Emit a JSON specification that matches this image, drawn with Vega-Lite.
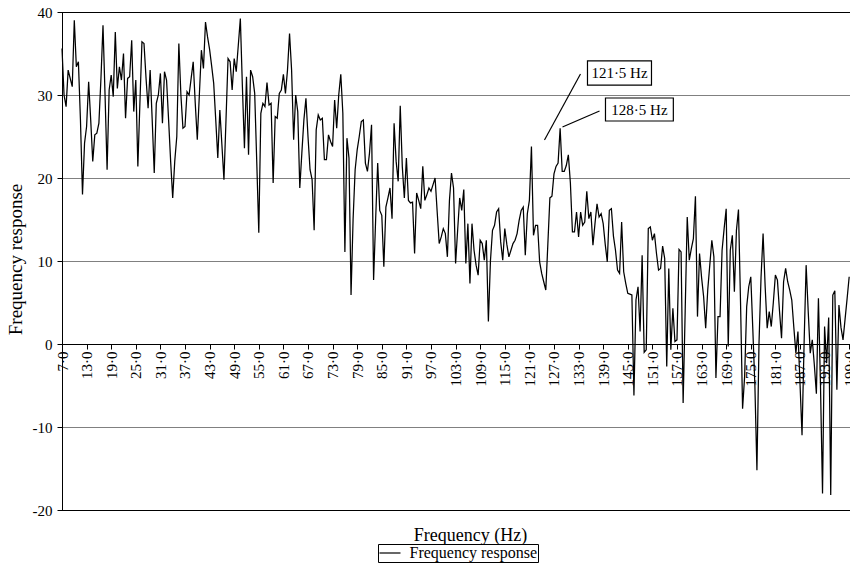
{
  "$schema": "https://vega.github.io/schema/vega-lite/v6.json",
  "width": 788,
  "height": 498,
  "autosize": "none",
  "padding": {"left": 62, "top": 12, "right": 0, "bottom": 73},
  "background": "white",
  "config": {
    "view": {"stroke": null},
    "font": "Liberation Serif",
    "axis": {"labelFont": "Liberation Serif", "titleFont": "Liberation Serif", "labelColor": "black", "titleColor": "black", "titleFontWeight": "normal", "domainColor": "black", "tickColor": "black", "domainWidth": 1, "tickWidth": 1},
    "axisX": {"labelOverlap": false, "labelFlush": false, "labelBound": false},
    "axisY": {"labelOverlap": false, "labelFlush": false}
  },
  "datasets": {
    "freq": [
      {"f":7.0,"v":35.6},{"f":7.5,"v":30},{"f":8.0,"v":28.6},{"f":8.5,"v":33},{"f":9.0,"v":32},{"f":9.5,"v":31},{"f":10.0,"v":39},{"f":10.5,"v":33.4},{"f":11.0,"v":34},{"f":11.5,"v":27},
      {"f":12.0,"v":18},{"f":12.5,"v":24.2},{"f":13.0,"v":26.2},{"f":13.5,"v":31.6},{"f":14.0,"v":27},{"f":14.5,"v":22},{"f":15.0,"v":25.2},{"f":15.5,"v":25.4},{"f":16.0,"v":26.6},{"f":16.5,"v":32},
      {"f":17.0,"v":38.4},{"f":17.5,"v":30},{"f":18.0,"v":21},{"f":18.5,"v":30.6},{"f":19.0,"v":32.4},{"f":19.5,"v":29.8},{"f":20.0,"v":37.6},{"f":20.5,"v":30.8},{"f":21.0,"v":33.4},{"f":21.5,"v":31.8},
      {"f":22.0,"v":35},{"f":22.5,"v":27.2},{"f":23.0,"v":32},{"f":23.5,"v":32.2},{"f":24.0,"v":36.6},{"f":24.5,"v":28},{"f":25.0,"v":31.8},{"f":25.5,"v":21.4},{"f":26.0,"v":29},{"f":26.5,"v":36.4},
      {"f":27.0,"v":36.2},{"f":27.5,"v":32},{"f":28.0,"v":28.4},{"f":28.5,"v":33},{"f":29.0,"v":27},{"f":29.5,"v":20.6},{"f":30.0,"v":29},{"f":30.5,"v":30},{"f":31.0,"v":32.6},{"f":31.5,"v":26.6},
      {"f":32.0,"v":32.8},{"f":32.5,"v":31.8},{"f":33.0,"v":27},{"f":33.5,"v":22},{"f":34.0,"v":17.6},{"f":34.5,"v":22},{"f":35.0,"v":25},{"f":35.5,"v":36.2},{"f":36.0,"v":30},{"f":36.5,"v":26},
      {"f":37.0,"v":26.2},{"f":37.5,"v":30.4},{"f":38.0,"v":30},{"f":38.5,"v":32},{"f":39.0,"v":34},{"f":39.5,"v":29},{"f":40.0,"v":24.6},{"f":40.5,"v":30},{"f":41.0,"v":35.4},{"f":41.5,"v":33.2},
      {"f":42.0,"v":38.8},{"f":42.5,"v":37},{"f":43.0,"v":35.5},{"f":43.5,"v":33.5},{"f":44.0,"v":31.4},{"f":44.5,"v":27},{"f":45.0,"v":22.4},{"f":45.5,"v":28.2},{"f":46.0,"v":24},{"f":46.5,"v":19.8},
      {"f":47.0,"v":27},{"f":47.5,"v":34.4},{"f":48.0,"v":34},{"f":48.5,"v":30.6},{"f":49.0,"v":34.4},{"f":49.5,"v":32.8},{"f":50.0,"v":36},{"f":50.5,"v":39.2},{"f":51.0,"v":31},{"f":51.5,"v":23.6},
      {"f":52.0,"v":32.2},{"f":52.5,"v":22.8},{"f":53.0,"v":33},{"f":53.5,"v":32.2},{"f":54.0,"v":30.2},{"f":54.5,"v":22},{"f":55.0,"v":13.4},{"f":55.5,"v":27.8},{"f":56.0,"v":29},{"f":56.5,"v":28.6},
      {"f":57.0,"v":31.5},{"f":57.5,"v":28.8},{"f":58.0,"v":29},{"f":58.5,"v":19.4},{"f":59.0,"v":27.4},{"f":59.5,"v":27.2},{"f":60.0,"v":30.2},{"f":60.5,"v":30.6},{"f":61.0,"v":32.5},{"f":61.5,"v":30.2},
      {"f":62.0,"v":33},{"f":62.5,"v":37.4},{"f":63.0,"v":33},{"f":63.5,"v":24.6},{"f":64.0,"v":30},{"f":64.5,"v":28},{"f":65.0,"v":18.8},{"f":65.5,"v":23},{"f":66.0,"v":27},{"f":66.5,"v":29.6},
      {"f":67.0,"v":25},{"f":67.5,"v":21},{"f":68.0,"v":19.8},{"f":68.5,"v":13.7},{"f":69.0,"v":25.8},{"f":69.5,"v":27.6},{"f":70.0,"v":27},{"f":70.5,"v":27.2},{"f":71.0,"v":22.2},{"f":71.5,"v":22.2},
      {"f":72.0,"v":25.2},{"f":72.5,"v":24.4},{"f":73.0,"v":23.8},{"f":73.5,"v":29.4},{"f":74.0,"v":26},{"f":74.5,"v":30},{"f":75.0,"v":32.5},{"f":75.5,"v":27.8},{"f":76.0,"v":11.1},{"f":76.5,"v":24.8},
      {"f":77.0,"v":22.4},{"f":77.5,"v":5.9},{"f":78.0,"v":15},{"f":78.5,"v":21},{"f":79.0,"v":23.4},{"f":79.5,"v":25},{"f":80.0,"v":26.8},{"f":80.5,"v":27},{"f":81.0,"v":21.8},{"f":81.5,"v":20.8},
      {"f":82.0,"v":23},{"f":82.5,"v":26.4},{"f":83.0,"v":7.7},{"f":83.5,"v":15},{"f":84.0,"v":21.8},{"f":84.5,"v":16.1},{"f":85.0,"v":15.5},{"f":85.5,"v":9.3},{"f":86.0,"v":16.5},{"f":86.5,"v":17.6},
      {"f":87.0,"v":18.8},{"f":87.5,"v":15.1},{"f":88.0,"v":26.6},{"f":88.5,"v":22},{"f":89.0,"v":19.6},{"f":89.5,"v":28.7},{"f":90.0,"v":21.4},{"f":90.5,"v":17.6},{"f":91.0,"v":22.4},{"f":91.5,"v":17.3},
      {"f":92.0,"v":17},{"f":92.5,"v":17.1},{"f":93.0,"v":10.9},{"f":93.5,"v":18.2},{"f":94.0,"v":17.3},{"f":94.5,"v":16.3},{"f":95.0,"v":21.4},{"f":95.5,"v":17.3},{"f":96.0,"v":18},{"f":96.5,"v":18.8},
      {"f":97.0,"v":18.4},{"f":97.5,"v":19.2},{"f":98.0,"v":20},{"f":98.5,"v":16},{"f":99.0,"v":12.1},{"f":99.5,"v":12.9},{"f":100.0,"v":13.9},{"f":100.5,"v":13.3},{"f":101.0,"v":10.5},{"f":101.5,"v":17.3},
      {"f":102.0,"v":20.6},{"f":102.5,"v":18.8},{"f":103.0,"v":9.7},{"f":103.5,"v":13.7},{"f":104.0,"v":17.6},{"f":104.5,"v":16.1},{"f":105.0,"v":18.6},{"f":105.5,"v":9.7},{"f":106.0,"v":14.5},{"f":106.5,"v":7.3},
      {"f":107.0,"v":14.5},{"f":107.5,"v":11.3},{"f":108.0,"v":9.5},{"f":108.5,"v":8.3},{"f":109.0,"v":12.5},{"f":109.5,"v":12.1},{"f":110.0,"v":10.1},{"f":110.5,"v":12.5},{"f":111.0,"v":2.7},{"f":111.5,"v":10},
      {"f":112.0,"v":13.7},{"f":112.5,"v":14.3},{"f":113.0,"v":15.9},{"f":113.5,"v":16.3},{"f":114.0,"v":12.3},{"f":114.5,"v":10.1},{"f":115.0,"v":13.9},{"f":115.5,"v":12},{"f":116.0,"v":10.5},{"f":116.5,"v":11.3},
      {"f":117.0,"v":12.1},{"f":117.5,"v":12.5},{"f":118.0,"v":13.3},{"f":118.5,"v":14.9},{"f":119.0,"v":16.1},{"f":119.5,"v":16.5},{"f":120.0,"v":10.7},{"f":120.5,"v":15.7},{"f":121.0,"v":17.3},{"f":121.5,"v":23.8},
      {"f":122.0,"v":13.1},{"f":122.5,"v":14.3},{"f":123.0,"v":14.3},{"f":123.5,"v":9.9},{"f":124.0,"v":8.5},{"f":124.5,"v":7.5},{"f":125.0,"v":6.5},{"f":125.5,"v":12},{"f":126.0,"v":17.6},{"f":126.5,"v":17.8},
      {"f":127.0,"v":20.5},{"f":127.5,"v":21.4},{"f":128.0,"v":21.8},{"f":128.5,"v":26},{"f":129.0,"v":20.8},{"f":129.5,"v":20.8},{"f":130.0,"v":21.5},{"f":130.5,"v":22.8},{"f":131.0,"v":19.4},{"f":131.5,"v":13.5},
      {"f":132.0,"v":13.5},{"f":132.5,"v":15.9},{"f":133.0,"v":12.9},{"f":133.5,"v":15.9},{"f":134.0,"v":14.3},{"f":134.5,"v":14.7},{"f":135.0,"v":18.4},{"f":135.5,"v":15.1},{"f":136.0,"v":15.9},{"f":136.5,"v":11.9},
      {"f":137.0,"v":14.5},{"f":137.5,"v":16.9},{"f":138.0,"v":15.3},{"f":138.5,"v":15.7},{"f":139.0,"v":14.5},{"f":139.5,"v":12},{"f":140.0,"v":9.9},{"f":140.5,"v":16.1},{"f":141.0,"v":16.3},{"f":141.5,"v":13},
      {"f":142.0,"v":11.3},{"f":142.5,"v":8.9},{"f":143.0,"v":8.5},{"f":143.5,"v":14.7},{"f":144.0,"v":8.7},{"f":144.5,"v":7.3},{"f":145.0,"v":6.1},{"f":145.5,"v":6},{"f":146.0,"v":5.9},{"f":146.5,"v":-6.2},
      {"f":147.0,"v":5.3},{"f":147.5,"v":6.9},{"f":148.0,"v":1.5},{"f":148.5,"v":10.7},{"f":149.0,"v":-1},{"f":149.5,"v":-0.7},{"f":150.0,"v":13.9},{"f":150.5,"v":14.1},{"f":151.0,"v":12.5},{"f":151.5,"v":13.3},
      {"f":152.0,"v":10.9},{"f":152.5,"v":8.9},{"f":153.0,"v":9.1},{"f":153.5,"v":11.8},{"f":154.0,"v":10.3},{"f":154.5,"v":-2.7},{"f":155.0,"v":9.1},{"f":155.5,"v":-0.7},{"f":156.0,"v":4.3},{"f":156.5,"v":0.3},
      {"f":157.0,"v":0.5},{"f":157.5,"v":11.4},{"f":158.0,"v":11.1},{"f":158.5,"v":-7.1},{"f":159.0,"v":4},{"f":159.5,"v":15.3},{"f":160.0,"v":10.1},{"f":160.5,"v":11.5},{"f":161.0,"v":12.7},{"f":161.5,"v":17.8},
      {"f":162.0,"v":3.3},{"f":162.5,"v":10.9},{"f":163.0,"v":8},{"f":163.5,"v":5.7},{"f":164.0,"v":1.9},{"f":164.5,"v":6.5},{"f":165.0,"v":9.5},{"f":165.5,"v":12.5},{"f":166.0,"v":10.5},{"f":166.5,"v":-4.1},
      {"f":167.0,"v":3.3},{"f":167.5,"v":3.3},{"f":168.0,"v":11.3},{"f":168.5,"v":13.9},{"f":169.0,"v":16.3},{"f":169.5,"v":-0.3},{"f":170.0,"v":11.3},{"f":170.5,"v":13.1},{"f":171.0,"v":6.3},{"f":171.5,"v":13.7},
      {"f":172.0,"v":16.2},{"f":172.5,"v":5},{"f":173.0,"v":-7.8},{"f":173.5,"v":-3.9},{"f":174.0,"v":4.5},{"f":174.5,"v":6.9},{"f":175.0,"v":8.1},{"f":175.5,"v":1.7},{"f":176.0,"v":-5},{"f":176.5,"v":-15.2},
      {"f":177.0,"v":0},{"f":177.5,"v":8},{"f":178.0,"v":13.3},{"f":178.5,"v":7},{"f":179.0,"v":1.9},{"f":179.5,"v":3.9},{"f":180.0,"v":2.1},{"f":180.5,"v":5},{"f":181.0,"v":8.3},{"f":181.5,"v":7.7},
      {"f":182.0,"v":4},{"f":182.5,"v":0.7},{"f":183.0,"v":7.5},{"f":183.5,"v":9.1},{"f":184.0,"v":7.5},{"f":184.5,"v":6.5},{"f":185.0,"v":5.3},{"f":185.5,"v":2},{"f":186.0,"v":-1.1},{"f":186.5,"v":1.5},
      {"f":187.0,"v":-4.7},{"f":187.5,"v":-11},{"f":188.0,"v":0},{"f":188.5,"v":9.5},{"f":189.0,"v":4},{"f":189.5,"v":-1.1},{"f":190.0,"v":0.5},{"f":190.5,"v":-2.5},{"f":191.0,"v":-6},{"f":191.5,"v":5.5},
      {"f":192.0,"v":-5},{"f":192.5,"v":-18},{"f":193.0,"v":2.1},{"f":193.5,"v":-2.3},{"f":194.0,"v":3.2},{"f":194.5,"v":-18.2},{"f":195.0,"v":5.9},{"f":195.5,"v":6.4},{"f":196.0,"v":-5.5},{"f":196.5,"v":4.7},
      {"f":197.0,"v":2},{"f":197.5,"v":0.5},{"f":198.0,"v":3},{"f":198.5,"v":5.5},{"f":199.0,"v":8.1}
    ],
    "frame": [{"v": 40}, {"v": -20}],
    "leaders": [
      {"f": 133.46, "v": 32.53, "f2": 124.68, "v2": 24.58},
      {"f": 138.1, "v": 28.07, "f2": 129.07, "v2": 26.14}
    ],
    "boxes": [
      {"f": 135.17, "f2": 150.78, "v": 34.1, "v2": 31.2},
      {"f": 139.56, "f2": 156.11, "v": 29.64, "v2": 26.87}
    ],
    "labels": [
      {"label": "121·5 Hz", "f": 142.98, "v": 32.65},
      {"label": "128·5 Hz", "f": 147.85, "v": 28.25}
    ]
  },
  "layer": [
    {
      "data": {"name": "freq"},
      "mark": {"type": "line", "strokeWidth": 1.25},
      "encoding": {
        "x": {
          "field": "f", "type": "quantitative",
          "scale": {"domain": [7, 199.2], "nice": false, "zero": false},
          "axis": {
            "values": [7,13,19,25,31,37,43,49,55,61,67,73,79,85,91,97,103,109,115,121,127,133,139,145,151,157,163,169,175,181,187,193,199],
            "tickCount": 60,
            "labelExpr": "replace(format(datum.value, '.1f'), '.', '·')",
            "labelAngle": -90, "labelAlign": "right", "labelBaseline": "middle",
            "labelFontSize": 15, "labelPadding": 2, "labelOverlap": false, "labelFlush": false, "labelBound": false,
            "offset": -166, "grid": false, "tickSize": 5,
            "title": "Frequency (Hz)", "titleFontSize": 18,
            "titleX": 408, "titleY": 191, "titleAlign": "center", "titleBaseline": "middle", "titleAngle": 0
          }
        },
        "y": {
          "field": "v", "type": "quantitative",
          "scale": {"domain": [-20, 40], "nice": false, "zero": false},
          "axis": {
            "values": [-20,-10,0,10,20,30,40],
            "tickCount": 20,
            "labelExpr": "datum.value + ''",
            "grid": true, "gridColor": "#808080", "gridWidth": 1,
            "tickSize": 5, "labelFontSize": 15, "labelPadding": 5, "labelFlush": false,
            "title": "Frequency response", "titleFontSize": 19,
            "titleX": -47, "titleY": 247, "titleAlign": "center", "titleBaseline": "middle", "titleAngle": -90
          }
        },
        "color": {
          "datum": "Frequency response",
          "scale": {"range": ["black"]},
          "legend": {
            "orient": "none", "legendX": 316, "legendY": 532, "title": null,
            "symbolType": "M-1.4,0H1.4", "symbolSize": 225, "symbolOffset": 3, "symbolStrokeWidth": 1.2, "symbolStrokeColor": "black",
            "labelFont": "Liberation Serif", "labelFontSize": 16, "labelColor": "black", "labelOffset": 11,
            "strokeColor": "black", "fillColor": "white", "padding": 0.5, "cornerRadius": 0
          }
        }
      }
    },
    {
      "data": {"name": "frame"},
      "mark": {"type": "rule", "color": "black", "strokeWidth": 1, "yOffset": 0.5},
      "encoding": {
        "y": {"field": "v", "type": "quantitative"}
      }
    },
    {
      "data": {"name": "leaders"},
      "mark": {"type": "rule", "color": "black", "strokeWidth": 1.2},
      "encoding": {
        "x": {"field": "f", "type": "quantitative"},
        "y": {"field": "v", "type": "quantitative"},
        "x2": {"field": "f2"},
        "y2": {"field": "v2"}
      }
    },
    {
      "data": {"name": "boxes"},
      "mark": {"type": "rect", "fill": "white", "stroke": "black", "strokeWidth": 1.2},
      "encoding": {
        "x": {"field": "f", "type": "quantitative"},
        "x2": {"field": "f2"},
        "y": {"field": "v", "type": "quantitative"},
        "y2": {"field": "v2"}
      }
    },
    {
      "data": {"name": "labels"},
      "mark": {"type": "text", "font": "Liberation Serif", "fontSize": 15, "color": "black", "align": "center", "baseline": "middle"},
      "encoding": {
        "x": {"field": "f", "type": "quantitative"},
        "y": {"field": "v", "type": "quantitative"},
        "text": {"field": "label"}
      }
    }
  ]
}
